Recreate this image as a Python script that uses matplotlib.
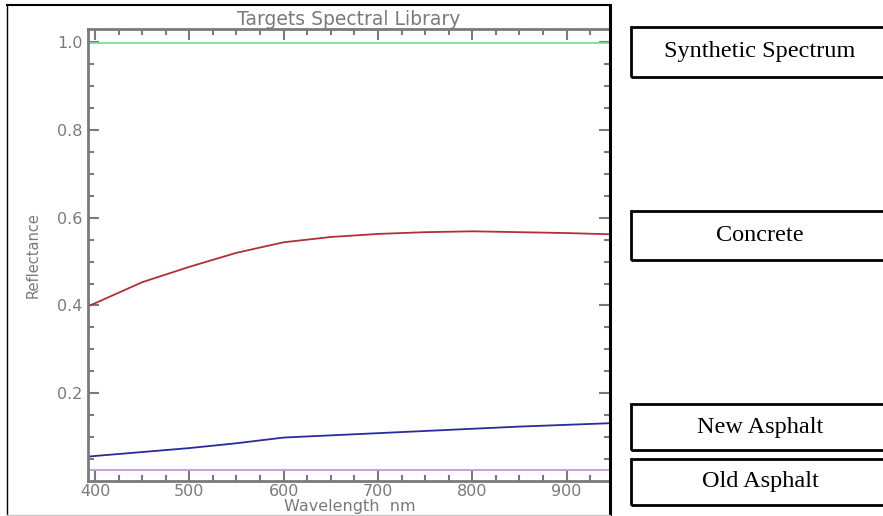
#!/usr/bin/env python3

import matplotlib
matplotlib.use("Agg")
import matplotlib.pyplot as plt
from matplotlib.patches import Rectangle
from matplotlib.lines import Line2D

# spectra
wavelength = [390, 400, 450, 500, 550, 600, 650, 700, 750, 800, 850, 900, 950]
synthetic = [0.997] * 13
concrete = [0.396, 0.405, 0.453, 0.488, 0.520, 0.544, 0.556, 0.563, 0.567, 0.569, 0.567, 0.565, 0.562]
new_asphalt = [0.055, 0.057, 0.066, 0.075, 0.086, 0.099, 0.104, 0.109, 0.114, 0.119, 0.124, 0.128, 0.132]
old_asphalt = [0.026] * 13

names = ["Synthetic Spectrum", "Concrete", "New Asphalt", "Old Asphalt"]
colors = ["#80dd90", "#b03038", "#2a2aa0", "#c898d8"]
# legend boxes (top, bottom) in pixels
boxes = [(27, 77), (211, 260), (404, 450), (459, 505)]

W, H = 883, 516
fig = plt.figure(figsize=(W / 100, H / 100), dpi=100)
fig.patch.set_facecolor("white")

def fx(px):
    return px / W

def fy(py):
    return 1 - py / H

ax = fig.add_axes([fx(88), fy(481), fx(610) - fx(88), fy(29) - fy(481)])
for y, c in zip([synthetic, concrete, new_asphalt, old_asphalt], colors):
    ax.plot(wavelength, y, color=c, lw=1.3)

ax.set_xlim(392.6, 946)
ax.set_ylim(0, 1.03)
ax.set_xticks([400, 500, 600, 700, 800, 900])
ax.set_xticks(range(400, 950, 25), minor=True)
ax.set_yticks([0.2, 0.4, 0.6, 0.8, 1.0])
ax.set_yticklabels(["0.2", "0.4", "0.6", "0.8", "1.0"])
ax.set_yticks([0.05 * i for i in range(1, 21)], minor=True)
gray = "#7a7a7a"
ax.tick_params(which="both", direction="in", top=True, right=True, colors=gray,
               labelcolor=gray, labelsize=11.5, width=1.5)
ax.tick_params(which="major", length=8, pad=4)
ax.tick_params(axis="x", which="major", pad=2)
ax.tick_params(which="minor", length=4)
for s in ax.spines.values():
    s.set_color(gray)
    s.set_linewidth(2)
ax.spines["right"].set_visible(False)

ax.set_title("Targets Spectral Library", color=gray, fontsize=13.5, pad=2)
fig.text(fx(350), fy(506), "Wavelength  nm", color=gray, fontsize=11.5,
         ha="center", va="center")
ax.set_ylabel("Reflectance", color=gray, fontsize=10.5, labelpad=12)

# outer frame of the screenshot
fig.add_artist(Line2D([fx(7), fx(610)], [fy(5), fy(5)], color="black", lw=1.5))
fig.add_artist(Line2D([fx(7), fx(7)], [fy(5), fy(515)], color="black", lw=1))
fig.add_artist(Line2D([fx(610), fx(610)], [fy(5), fy(515)], color="black", lw=2.2))
fig.add_artist(Line2D([fx(7), fx(610)], [fy(515), fy(515)], color="#c8c8c8", lw=1))

for name, (t, b) in zip(names, boxes):
    fig.add_artist(Rectangle((fx(631), fy(b)), fx(260), fy(t) - fy(b),
                             fill=False, edgecolor="black", lw=2))
    fig.text(fx(760), fy((t + b) / 2), name, ha="center", va="center",
             fontsize=17.5, family="Liberation Serif", color="black")

fig.savefig("out.png", dpi=100)
